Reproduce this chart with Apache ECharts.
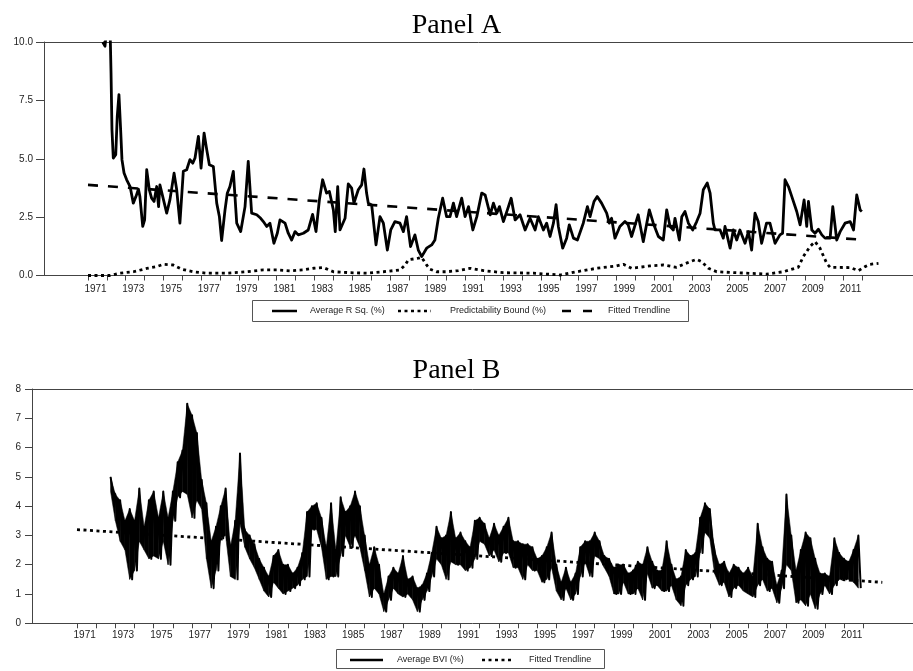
<!DOCTYPE html>
<html>
<head>
<meta charset="utf-8">
<script src="https://cdn.jsdelivr.net/npm/echarts@6/dist/echarts.min.js"></script>
<style>
  html, body { margin: 0; padding: 0; background: #fff; }
  #chart { width: 913px; height: 671px; }
</style>
</head>
<body>
<div id="chart"></div>
<script>
// Panel A: Average R Sq. (%) (year, value)
const rsqYear = [
  1971.78, 1971.90, 1972.02, 1972.10, 1972.17, 1972.22, 1972.27, 1972.34, 1972.47, 1972.55, 1972.64, 1972.73, 1972.80, 1972.91,
  1973.05, 1973.23, 1973.40, 1973.54, 1973.67, 1973.75, 1973.90, 1974.00, 1974.11, 1974.25, 1974.37, 1974.50, 1974.64, 1974.74,
  1974.81, 1974.96, 1975.17, 1975.34, 1975.56, 1975.70, 1975.87, 1976.05, 1976.23, 1976.40, 1976.55, 1976.67, 1976.85, 1976.99,
  1977.15, 1977.29, 1977.43, 1977.64, 1977.82, 1977.96, 1978.08, 1978.26, 1978.38, 1978.52, 1978.70, 1978.88, 1979.09, 1979.32,
  1979.49, 1979.67, 1979.94, 1980.15, 1980.29, 1980.47, 1980.64, 1980.85, 1981.03, 1981.17, 1981.44, 1981.61, 1981.79, 1981.97,
  1982.14, 1982.41, 1982.67, 1982.90, 1983.08, 1983.26, 1983.43, 1983.64, 1983.79, 1984.00, 1984.10, 1984.23, 1984.35, 1984.62,
  1984.79, 1984.97, 1985.09, 1985.32, 1985.50, 1985.62, 1985.76, 1985.85, 1986.03, 1986.26, 1986.47, 1986.65, 1986.86, 1987.04,
  1987.26, 1987.53, 1987.71, 1987.88, 1988.09, 1988.32, 1988.50, 1988.68, 1988.94, 1989.21, 1989.38, 1989.56, 1989.79, 1990.00,
  1990.18, 1990.36, 1990.53, 1990.80, 1990.98, 1991.16, 1991.39, 1991.60, 1991.86, 1992.04, 1992.31, 1992.48, 1992.66, 1992.80,
  1993.01, 1993.22, 1993.42, 1993.63, 1993.89, 1994.16, 1994.42, 1994.69, 1994.86, 1995.13, 1995.30, 1995.48, 1995.66, 1995.80,
  1995.92, 1996.15, 1996.36, 1996.50, 1996.72, 1996.93, 1997.24, 1997.46, 1997.60, 1997.81, 1997.98, 1998.21, 1998.48, 1998.62,
  1998.74, 1998.92, 1999.18, 1999.45, 1999.62, 1999.80, 2000.15, 2000.42, 2000.74, 2000.95, 2001.22, 2001.48, 2001.66, 2001.84,
  2002.01, 2002.10, 2002.33, 2002.46, 2002.63, 2002.81, 2003.04, 2003.25, 2003.43, 2003.60, 2003.81, 2003.96, 2004.13, 2004.22,
  2004.49, 2004.66, 2004.75, 2005.02, 2005.19, 2005.37, 2005.54, 2005.81, 2005.99, 2006.16, 2006.34, 2006.51, 2006.69, 2006.95,
  2007.13, 2007.40, 2007.66, 2007.80, 2007.93, 2008.11, 2008.29, 2008.55, 2008.73, 2008.94, 2009.08, 2009.17, 2009.35, 2009.52,
  2009.70, 2009.88, 2010.05, 2010.32, 2010.46, 2010.67, 2010.85, 2011.11, 2011.38, 2011.56, 2011.73, 2011.91, 2012.00
];
const rsqVal = [
  10.0, 9.82, 10.8, 11.0, 10.6, 8.68, 6.24, 5.03, 5.17, 6.82, 7.75, 6.24, 4.96, 4.39,
  4.10, 3.81, 3.10, 3.38, 3.70, 3.38, 2.10, 2.38, 4.53, 3.67, 3.31, 3.17, 3.81, 2.95,
  3.88, 3.38, 2.67, 3.24, 4.38, 3.67, 2.24, 4.46, 4.53, 4.96, 4.81, 5.03, 5.96, 4.60,
  6.10, 5.39, 4.74, 4.67, 3.10, 2.53, 1.50, 2.81, 3.52, 3.81, 4.46, 2.24, 1.88, 2.95,
  4.89, 2.67, 2.60, 2.45, 2.31, 2.10, 2.24, 1.38, 1.81, 2.38, 2.24, 1.81, 1.52, 1.88,
  1.74, 1.81, 1.95, 2.62, 1.88, 3.24, 4.10, 3.53, 3.60, 2.81, 1.88, 3.81, 1.95, 2.45,
  3.92, 3.74, 3.10, 3.67, 3.88, 4.56, 3.53, 3.10, 3.02, 1.31, 2.52, 2.24, 1.09, 1.95,
  2.31, 2.24, 1.88, 2.52, 1.24, 1.74, 1.09, 0.81, 1.17, 1.31, 1.52, 2.45, 3.31, 2.52,
  2.52, 3.10, 2.52, 3.31, 2.52, 2.95, 1.95, 2.52, 3.53, 3.45, 2.60, 3.10, 2.67, 2.95,
  2.31, 2.81, 3.31, 2.38, 2.60, 1.95, 2.45, 1.95, 2.52, 1.95, 2.24, 1.67, 2.24, 3.03,
  2.10, 1.17, 1.60, 2.17, 1.60, 1.52, 2.24, 2.95, 2.52, 3.17, 3.38, 3.10, 2.67, 2.24,
  2.45, 1.60, 2.10, 2.31, 2.17, 1.67, 2.60, 1.45, 2.81, 2.24, 1.67, 1.52, 2.81, 2.10,
  1.95, 2.45, 1.52, 2.52, 2.74, 2.24, 1.95, 2.31, 2.67, 3.67, 3.96, 3.53, 2.24, 1.95,
  1.95, 1.60, 2.10, 1.17, 1.95, 1.52, 1.95, 1.38, 1.88, 1.09, 2.67, 2.31, 1.38, 2.24,
  2.24, 1.38, 1.74, 1.81, 4.10, 3.81, 3.38, 2.74, 2.17, 3.24, 2.10, 3.17, 1.95, 1.81,
  1.98, 1.74, 1.60, 1.60, 2.95, 1.52, 1.88, 2.24, 2.31, 1.95, 3.45, 2.81, 2.74
];

// Panel A: Predictability Bound (%)
const boundYear = [
  1971.0, 1972.17, 1972.7, 1973.4, 1974.1, 1974.64, 1975.0, 1975.52, 1975.96, 1976.58, 1977.29, 1978.35, 1979.4, 1980.3,
  1981.0, 1981.7, 1982.4, 1982.94, 1983.47, 1984.0, 1984.9, 1985.76, 1986.65, 1987.53, 1987.8, 1987.97, 1988.5, 1988.68,
  1988.94, 1989.12, 1989.47, 1990.0, 1990.62, 1991.24, 1991.95, 1993.0, 1994.6, 1996.0, 1996.89, 1997.95, 1999.01, 1999.37,
  1999.8, 2000.77, 2001.48, 2002.18, 2002.89, 2003.25, 2003.51, 2003.87, 2004.31, 2005.37, 2006.95, 2007.84, 2008.63, 2008.9,
  2009.25, 2009.52, 2009.78, 2010.14, 2010.32, 2011.38, 2011.82, 2012.17, 2012.44, 2012.88
];
const boundVal = [
  0.0, 0.0, 0.1, 0.16, 0.3, 0.38, 0.48, 0.45, 0.27, 0.16, 0.1, 0.1, 0.16, 0.24,
  0.24, 0.2, 0.24, 0.31, 0.34, 0.16, 0.12, 0.1, 0.16, 0.24, 0.45, 0.67, 0.74, 0.78,
  0.45, 0.27, 0.16, 0.16, 0.21, 0.31, 0.21, 0.12, 0.1, 0.02, 0.16, 0.31, 0.41, 0.48,
  0.31, 0.41, 0.45, 0.35, 0.59, 0.69, 0.59, 0.31, 0.16, 0.12, 0.06, 0.16, 0.35, 0.81,
  1.24, 1.45, 1.17, 0.52, 0.35, 0.34, 0.21, 0.38, 0.48, 0.52
];

// Panel A: Fitted Trendline (end points)
const trendAYear = [1971.0, 2011.7];
const trendAVal = [3.88, 1.55];

// Panel B: Average BVI (%) - quarterly high / low of the noisy band
const bviStart = 1972.75;
const bviStep = 0.25;
const bviHi = [
  5.0,
  4.4, 4.2, 3.5, 3.9,  3.5, 4.6, 3.3, 4.2,  4.5, 3.6, 4.5, 3.6,  4.5, 5.5, 5.9, 7.5,
  7.1, 6.5, 4.9, 4.1,  2.8, 3.3, 4.0, 4.6,  2.6, 3.5, 5.8, 3.2,  3.0, 2.7, 2.2, 1.9,
  1.6, 2.3, 2.5, 2.0,  2.0, 1.7, 1.9, 2.4,  3.8, 4.0, 4.1, 3.6,  2.6, 4.1, 2.5, 4.3,
  3.8, 4.0, 4.5, 4.0,  3.0, 2.0, 2.6, 2.0,  1.0, 1.6, 1.9, 1.7,  2.3, 1.5, 1.6, 1.2,
  1.3, 1.7, 2.4, 3.3,  2.9, 3.0, 3.8, 2.9,  3.1, 2.8, 2.6, 3.5,  3.6, 3.4, 2.9, 3.4,
  3.0, 3.3, 3.6, 2.8,  2.8, 2.7, 2.7, 2.6,  2.2, 2.3, 2.6, 3.1,  2.0, 1.4, 1.9, 1.4,
  1.7, 2.6, 2.8, 2.8,  3.1, 2.8, 2.3, 2.2,  1.9, 2.0, 2.0, 1.7,  1.8, 2.1, 2.0, 2.6,
  2.1, 1.8, 1.8, 2.8,  2.0, 1.5, 1.6, 2.5,  2.3, 2.4, 3.6, 4.1,  3.9, 2.5, 2.0, 2.1,
  1.7, 2.0, 1.9, 1.7,  1.9, 1.6, 3.4, 2.6,  2.2, 2.1, 1.3, 1.8,  4.4, 3.0, 1.8, 2.5,
  3.1, 2.9, 2.2, 1.7,  1.7, 1.6, 2.9, 2.4,  2.2, 2.1, 2.5, 3.0
];
const bviLo = [
  4.5,
  3.5, 2.8, 2.5, 1.5,  1.8, 2.8, 2.5, 2.2,  2.3, 2.2, 2.8, 2.0,  3.5, 4.3, 4.5, 4.4,
  3.6, 4.2, 3.9, 2.2,  1.2, 1.8, 2.9, 3.0,  1.6, 1.5, 3.4, 2.6,  2.2, 1.9, 1.5, 1.1,
  0.9, 1.4, 1.2, 1.0,  1.1, 1.2, 1.3, 1.5,  1.6, 3.2, 3.2, 2.6,  1.5, 1.6, 1.6, 2.3,
  3.0, 2.6, 3.0, 2.6,  1.8, 0.9, 1.2, 1.0,  0.4, 0.8, 1.2, 1.0,  0.9, 1.0, 0.8, 0.4,
  0.8, 1.1, 1.6, 2.2,  2.0, 1.5, 2.1, 2.0,  2.0, 1.8, 1.9, 2.2,  2.8, 2.7, 2.3, 2.5,
  2.1, 2.4, 2.4, 1.9,  1.9, 1.5, 2.0, 1.8,  1.8, 1.4, 1.5, 1.9,  1.1, 0.8, 1.2, 0.8,
  1.0, 1.6, 2.1, 1.6,  2.3, 2.2, 1.9, 1.6,  1.0, 1.0, 1.4, 1.0,  1.0, 1.2, 0.8, 1.7,
  1.2, 1.3, 1.1, 1.1,  1.3, 0.8, 0.6, 1.3,  1.5, 1.6, 2.4, 3.1,  2.9, 1.7, 1.3, 1.4,
  0.9, 1.2, 1.3, 1.1,  1.0, 0.9, 1.3, 1.5,  1.1, 1.2, 0.7, 1.2,  2.0, 1.8, 0.7, 0.8,
  0.6, 1.0, 0.5, 1.0,  1.3, 1.0, 1.3, 1.5,  1.5, 1.5, 1.4, 1.2
];

// Panel B: Fitted Trendline (end points)
const trendBYear = [1971.0, 2013.0];
const trendBVal = [3.2, 1.4];

// axis ticks / labels
const tickYears = [];
for (let y = 1971; y <= 2012; y++) tickYears.push(y);
const labelYears = [];
for (let y = 1971; y <= 2011; y += 2) labelYears.push(y);

const pairs = (xs, ys) => xs.map((x, i) => [x, ys[i]]);
const bviTime = bviHi.map((h, i) => bviStart + i * bviStep);
const bviData = [];
bviHi.forEach((h, i) => {
  bviData.push([bviTime[i], h]);
  bviData.push([bviTime[i] + bviStep / 2, bviLo[i]]);
});
const bandData = bviTime.map((t, i) => [t, bviLo[i], bviHi[i]]);

const axisColor = "#444";
const labelFont = "Liberation Sans";
const labelShift = 0.4;

function xAxes(gridIndex, min, max, margin) {
  return [
    {
      type: "value",
      gridIndex: gridIndex,
      min: min,
      max: max,
      position: "bottom",
      axisLine: { show: true, onZero: false, lineStyle: { color: axisColor, width: 1 } },
      axisTick: { show: true, inside: false, length: 5, customValues: tickYears, lineStyle: { color: axisColor } },
      axisLabel: {
        show: true,
        customValues: labelYears.map((y) => y + labelShift),
        formatter: (v) => String(Math.floor(v)),
        color: "#222",
        fontFamily: labelFont,
        fontSize: 10,
        margin: margin,
      },
      splitLine: { show: false },
    },
    {
      type: "value",
      gridIndex: gridIndex,
      min: min,
      max: max,
      position: "top",
      axisLine: { show: true, onZero: false, lineStyle: { color: axisColor, width: 1 } },
      axisTick: { show: false },
      axisLabel: { show: false },
      splitLine: { show: false },
    },
  ];
}

// band of the noisy BVI series: quad between bin i and bin i+1
function renderBand(params, api) {
  const i = params.dataIndex;
  if (i >= bandData.length - 1) return null;
  const a = bandData[i];
  const b = bandData[i + 1];
  const pts = [
    api.coord([a[0], a[2]]),
    api.coord([b[0], b[2]]),
    api.coord([b[0], b[1]]),
    api.coord([a[0], a[1]]),
  ];
  return {
    type: "polygon",
    shape: { points: pts },
    style: { fill: "#000", stroke: "#000", lineWidth: 0.5 },
  };
}

const chart = echarts.init(document.getElementById("chart"), null, { renderer: "canvas" });

chart.setOption({
  animation: false,
  backgroundColor: "#fff",
  title: [
    {
      text: "Panel A",
      left: "center",
      top: 7,
      textStyle: { fontFamily: "Liberation Serif", fontSize: 28, fontWeight: "normal", color: "#000" },
    },
    {
      text: "Panel B",
      left: "center",
      top: 352,
      textStyle: { fontFamily: "Liberation Serif", fontSize: 28, fontWeight: "normal", color: "#000" },
    },
  ],
  grid: [
    { left: 44, top: 42, right: 0, height: 233.5 },
    { left: 32, top: 389, right: 0, height: 234.3 },
  ],
  xAxis: [
    ...xAxes(0, 1968.669, 2014.71, 9),
    ...xAxes(1, 1968.653, 2014.6, 7),
  ],
  yAxis: [
    {
      type: "value",
      gridIndex: 0,
      min: 0,
      max: 10,
      interval: 2.5,
      axisLine: { show: true, lineStyle: { color: axisColor } },
      axisTick: { show: true, length: 8, lineStyle: { color: axisColor } },
      axisLabel: {
        formatter: (v) => v.toFixed(1),
        color: "#222",
        fontFamily: labelFont,
        fontSize: 10,
        margin: 11,
      },
      splitLine: { show: false },
    },
    {
      type: "value",
      gridIndex: 1,
      min: 0,
      max: 8,
      interval: 1,
      axisLine: { show: true, lineStyle: { color: axisColor } },
      axisTick: { show: true, length: 7, lineStyle: { color: axisColor } },
      axisLabel: { color: "#222", fontFamily: labelFont, fontSize: 10, margin: 11 },
      splitLine: { show: false },
    },
  ],
  series: [
    {
      name: "Predictability Bound (%)",
      type: "line",
      xAxisIndex: 0,
      yAxisIndex: 0,
      data: pairs(boundYear, boundVal),
      symbol: "none",
      lineStyle: { color: "#000", width: 2.8, type: [3, 3.5], cap: "butt" },
    },
    {
      name: "Fitted Trendline",
      type: "line",
      xAxisIndex: 0,
      yAxisIndex: 0,
      data: pairs(trendAYear, trendAVal),
      symbol: "none",
      lineStyle: { color: "#000", width: 2.6, type: [10, 10] },
    },
    {
      name: "Average R Sq. (%)",
      type: "line",
      xAxisIndex: 0,
      yAxisIndex: 0,
      data: pairs(rsqYear, rsqVal),
      symbol: "none",
      clip: true,
      lineStyle: { color: "#000", width: 2.8, join: "round" },
    },
    {
      name: "BVI band",
      type: "custom",
      xAxisIndex: 2,
      yAxisIndex: 1,
      data: bandData,
      encode: { x: 0, y: [1, 2] },
      renderItem: renderBand,
      silent: true,
    },
    {
      name: "Average BVI (%)",
      type: "line",
      xAxisIndex: 2,
      yAxisIndex: 1,
      data: bviData,
      symbol: "none",
      clip: true,
      lineStyle: { color: "#000", width: 2, join: "round" },
    },
    {
      name: "Fitted Trendline B",
      type: "line",
      xAxisIndex: 2,
      yAxisIndex: 1,
      data: pairs(trendBYear, trendBVal),
      symbol: "none",
      lineStyle: { color: "#000", width: 2.8, type: [3, 3.5], cap: "butt" },
    },
  ],
  graphic: [
    // legend of panel A
    { type: "rect", shape: { x: 252.5, y: 300.5, width: 436, height: 21 }, style: { fill: "#fff", stroke: "#555", lineWidth: 1 } },
    { type: "line", shape: { x1: 272, y1: 311, x2: 297, y2: 311 }, style: { stroke: "#000", lineWidth: 2.5 } },
    { type: "text", x: 310, y: 311, style: { text: "Average R Sq. (%)", fill: "#222", font: "9px Liberation Sans", verticalAlign: "middle" } },
    { type: "line", shape: { x1: 398, y1: 311, x2: 431, y2: 311 }, style: { stroke: "#000", lineWidth: 2.5, lineDash: [3, 3.5] } },
    { type: "text", x: 450, y: 311, style: { text: "Predictability Bound (%)", fill: "#222", font: "9px Liberation Sans", verticalAlign: "middle" } },
    { type: "line", shape: { x1: 562, y1: 311, x2: 592, y2: 311 }, style: { stroke: "#000", lineWidth: 2.5, lineDash: [9, 12] } },
    { type: "text", x: 608, y: 311, style: { text: "Fitted Trendline", fill: "#222", font: "9px Liberation Sans", verticalAlign: "middle" } },
    // legend of panel B
    { type: "rect", shape: { x: 336.5, y: 649.5, width: 268, height: 19 }, style: { fill: "#fff", stroke: "#555", lineWidth: 1 } },
    { type: "line", shape: { x1: 350, y1: 660, x2: 383, y2: 660 }, style: { stroke: "#000", lineWidth: 2.5 } },
    { type: "text", x: 397, y: 660, style: { text: "Average BVI (%)", fill: "#222", font: "9px Liberation Sans", verticalAlign: "middle" } },
    { type: "line", shape: { x1: 482, y1: 660, x2: 511, y2: 660 }, style: { stroke: "#000", lineWidth: 2.5, lineDash: [3, 3.5] } },
    { type: "text", x: 529, y: 660, style: { text: "Fitted Trendline", fill: "#222", font: "9px Liberation Sans", verticalAlign: "middle" } },
  ],
});
</script>
</body>
</html>
